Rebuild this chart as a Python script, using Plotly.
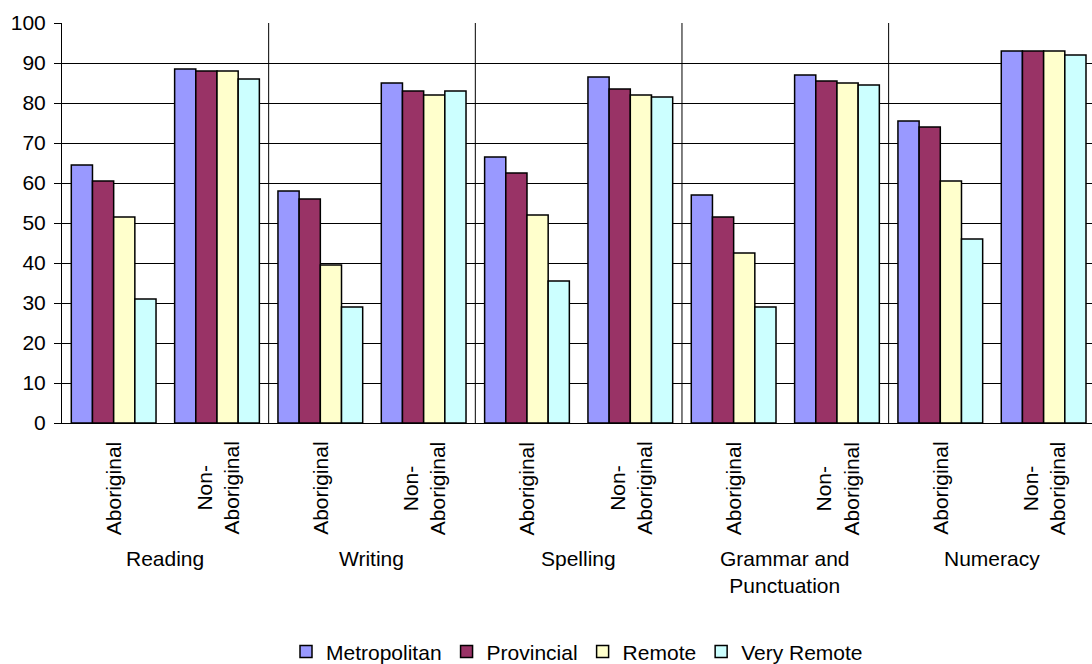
import plotly.graph_objects as go

# Test domains and student groups (two groups per domain)
domains = ["Reading", "Writing", "Spelling", "Grammar and<br>Punctuation", "Numeracy"]
groups = ["Aboriginal", "Non-<br>Aboriginal"]

# Percentage at or above benchmark, by geolocation
metropolitan = [64.5, 88.5, 58.0, 85.0, 66.5, 86.5, 57.0, 87.0, 75.5, 93.0]
provincial = [60.5, 88.0, 56.0, 83.0, 62.5, 83.5, 51.5, 85.5, 74.0, 93.0]
remote = [51.5, 88.0, 39.5, 82.0, 52.0, 82.0, 42.5, 85.0, 60.5, 93.0]
very_remote = [31.0, 86.0, 29.0, 83.0, 35.5, 81.5, 29.0, 84.5, 46.0, 92.0]

series = [
    ("Metropolitan", metropolitan, "#9999FF"),
    ("Provincial", provincial, "#993366"),
    ("Remote", remote, "#FFFFCC"),
    ("Very Remote", very_remote, "#CCFFFF"),
]

y_ticks = list(range(0, 101, 10))

FONT = "Liberation Sans, Arial, sans-serif"
FS = 21

n_groups = len(groups)
n_cats = len(domains) * n_groups
xpos = list(range(n_cats))

fig = go.Figure()
for name, vals, color in series:
    fig.add_trace(go.Bar(
        name=name, x=xpos, y=vals,
        marker=dict(color=color, line=dict(color="#000000", width=1.5)),
    ))

# Group labels under each cluster, rotated
annotations = []
for d in range(len(domains)):
    for g, glabel in enumerate(groups):
        annotations.append(dict(
            x=d * n_groups + g, xref="x", y=0, yref="paper",
            text=glabel, textangle=-90, showarrow=False,
            xanchor="center", yanchor="top", yshift=-17, align="center",
            font=dict(family=FONT, size=FS, color="#000000"),
        ))
    # Domain label centred under its pair of clusters
    annotations.append(dict(
        x=d * n_groups + (n_groups - 1) / 2, xref="x", y=0, yref="paper",
        text=domains[d], showarrow=False,
        xanchor="center", yanchor="top", yshift=-122, align="center",
        font=dict(family=FONT, size=FS, color="#000000"),
    ))

# Vertical dividers between domains
shapes = []
for d in range(1, len(domains)):
    xd = d * n_groups - 0.5
    shapes.append(dict(
        type="line", xref="x", yref="y", x0=xd, x1=xd, y0=y_ticks[0], y1=y_ticks[-1],
        line=dict(color="#000000", width=1), layer="below",
    ))

fig.update_layout(
    width=1092, height=664,
    margin=dict(l=62, r=0, t=23, b=241, autoexpand=False),
    paper_bgcolor="#FFFFFF", plot_bgcolor="#FFFFFF",
    barmode="group", bargap=0.18, bargroupgap=0,
    font=dict(family=FONT, size=FS, color="#000000"),
    showlegend=True,
    legend=dict(
        orientation="h", x=0.5, xanchor="center", y=-0.572, yanchor="middle",
        font=dict(family=FONT, size=FS, color="#000000"),
        itemwidth=30, tracegroupgap=0,
    ),
    annotations=annotations,
    shapes=shapes,
)

fig.update_xaxes(
    range=[-0.5, -0.5 + 1030 / 103.33],
    showticklabels=False, ticks="", showgrid=False, zeroline=False,
    showline=True, linecolor="#000000", linewidth=1, automargin=False,
)
fig.update_yaxes(
    range=[y_ticks[0], y_ticks[-1]], tickvals=y_ticks,
    ticks="outside", ticklen=7, tickcolor="#000000", tickwidth=1,
    ticklabelstandoff=4, automargin=False,
    showgrid=True, gridcolor="#000000", gridwidth=1, zeroline=False,
    showline=True, linecolor="#000000", linewidth=1,
    tickfont=dict(family=FONT, size=FS, color="#000000"),
)

fig.write_html("out.html")
